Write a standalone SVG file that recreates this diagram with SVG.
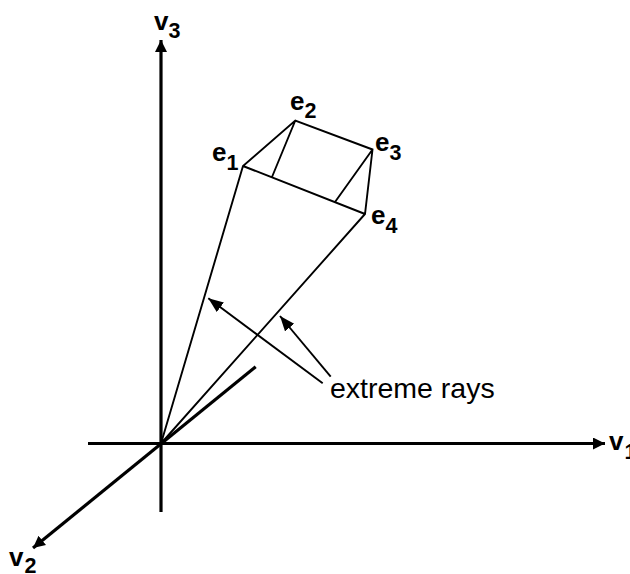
<svg xmlns="http://www.w3.org/2000/svg" width="630" height="574" viewBox="0 0 630 574">
<style>
.ax{stroke:#000;stroke-width:3.2;fill:none}
.th{stroke:#000;stroke-width:1.9;fill:none}
text{font-family:"Liberation Sans",Arial,sans-serif;fill:#000}
.l{font-size:26px;font-weight:bold}
.s{font-size:21.500px;font-weight:bold}
.t{font-size:28.500px}
</style>
<defs>
<marker id="a" markerUnits="userSpaceOnUse" markerWidth="14" markerHeight="14" refX="12" refY="6" orient="auto"><path d="M0 0L12 6L0 12Z" fill="#000"/></marker>
<marker id="b" markerUnits="userSpaceOnUse" markerWidth="18" markerHeight="14" refX="15" refY="6" orient="auto"><path d="M0 0L15 6L0 12Z" fill="#000"/></marker>
</defs>
<g id="connectors">
<line class="ax" x1="161" y1="512" x2="161" y2="40" marker-end="url(#a)"/>
<line class="ax" x1="88" y1="443.5" x2="605" y2="443.5" marker-end="url(#a)"/>
<line class="ax" x1="255.7" y1="366.7" x2="33" y2="548" marker-end="url(#a)"/>
<path class="th" d="M161 443.500L243 166L295.300 120.500L372.500 149.500L365 214L161 443.500M243 166L365 214M295.300 120.500L272 177M372.500 149.500L335 202"/>
<line class="th" x1="322.7" y1="383.3" x2="208.3" y2="298.3" marker-end="url(#b)"/>
<line class="th" x1="330.7" y1="376.7" x2="280" y2="316" marker-end="url(#b)"/>
</g>
<g id="label-v3"><text class="l" x="154" y="30">v<tspan class="s" dy="8">3</tspan></text></g>
<g id="label-v1"><text class="l" x="609" y="450">v<tspan class="s" dy="9" dx="1">1</tspan></text></g>
<g id="label-v2"><text class="l" x="9" y="566">v<tspan class="s" dy="7" dx="1">2</tspan></text></g>
<g id="label-e1"><text class="l" x="212" y="161">e<tspan class="s" dy="9">1</tspan></text></g>
<g id="label-e2"><text class="l" x="290" y="110">e<tspan class="s" dy="8">2</tspan></text></g>
<g id="label-e3"><text class="l" x="375" y="151">e<tspan class="s" dy="9">3</tspan></text></g>
<g id="label-e4"><text class="l" x="371" y="224">e<tspan class="s" dy="9">4</tspan></text></g>
<g id="label-rays"><text class="t" x="330" y="398">extreme rays</text></g>
</svg>
